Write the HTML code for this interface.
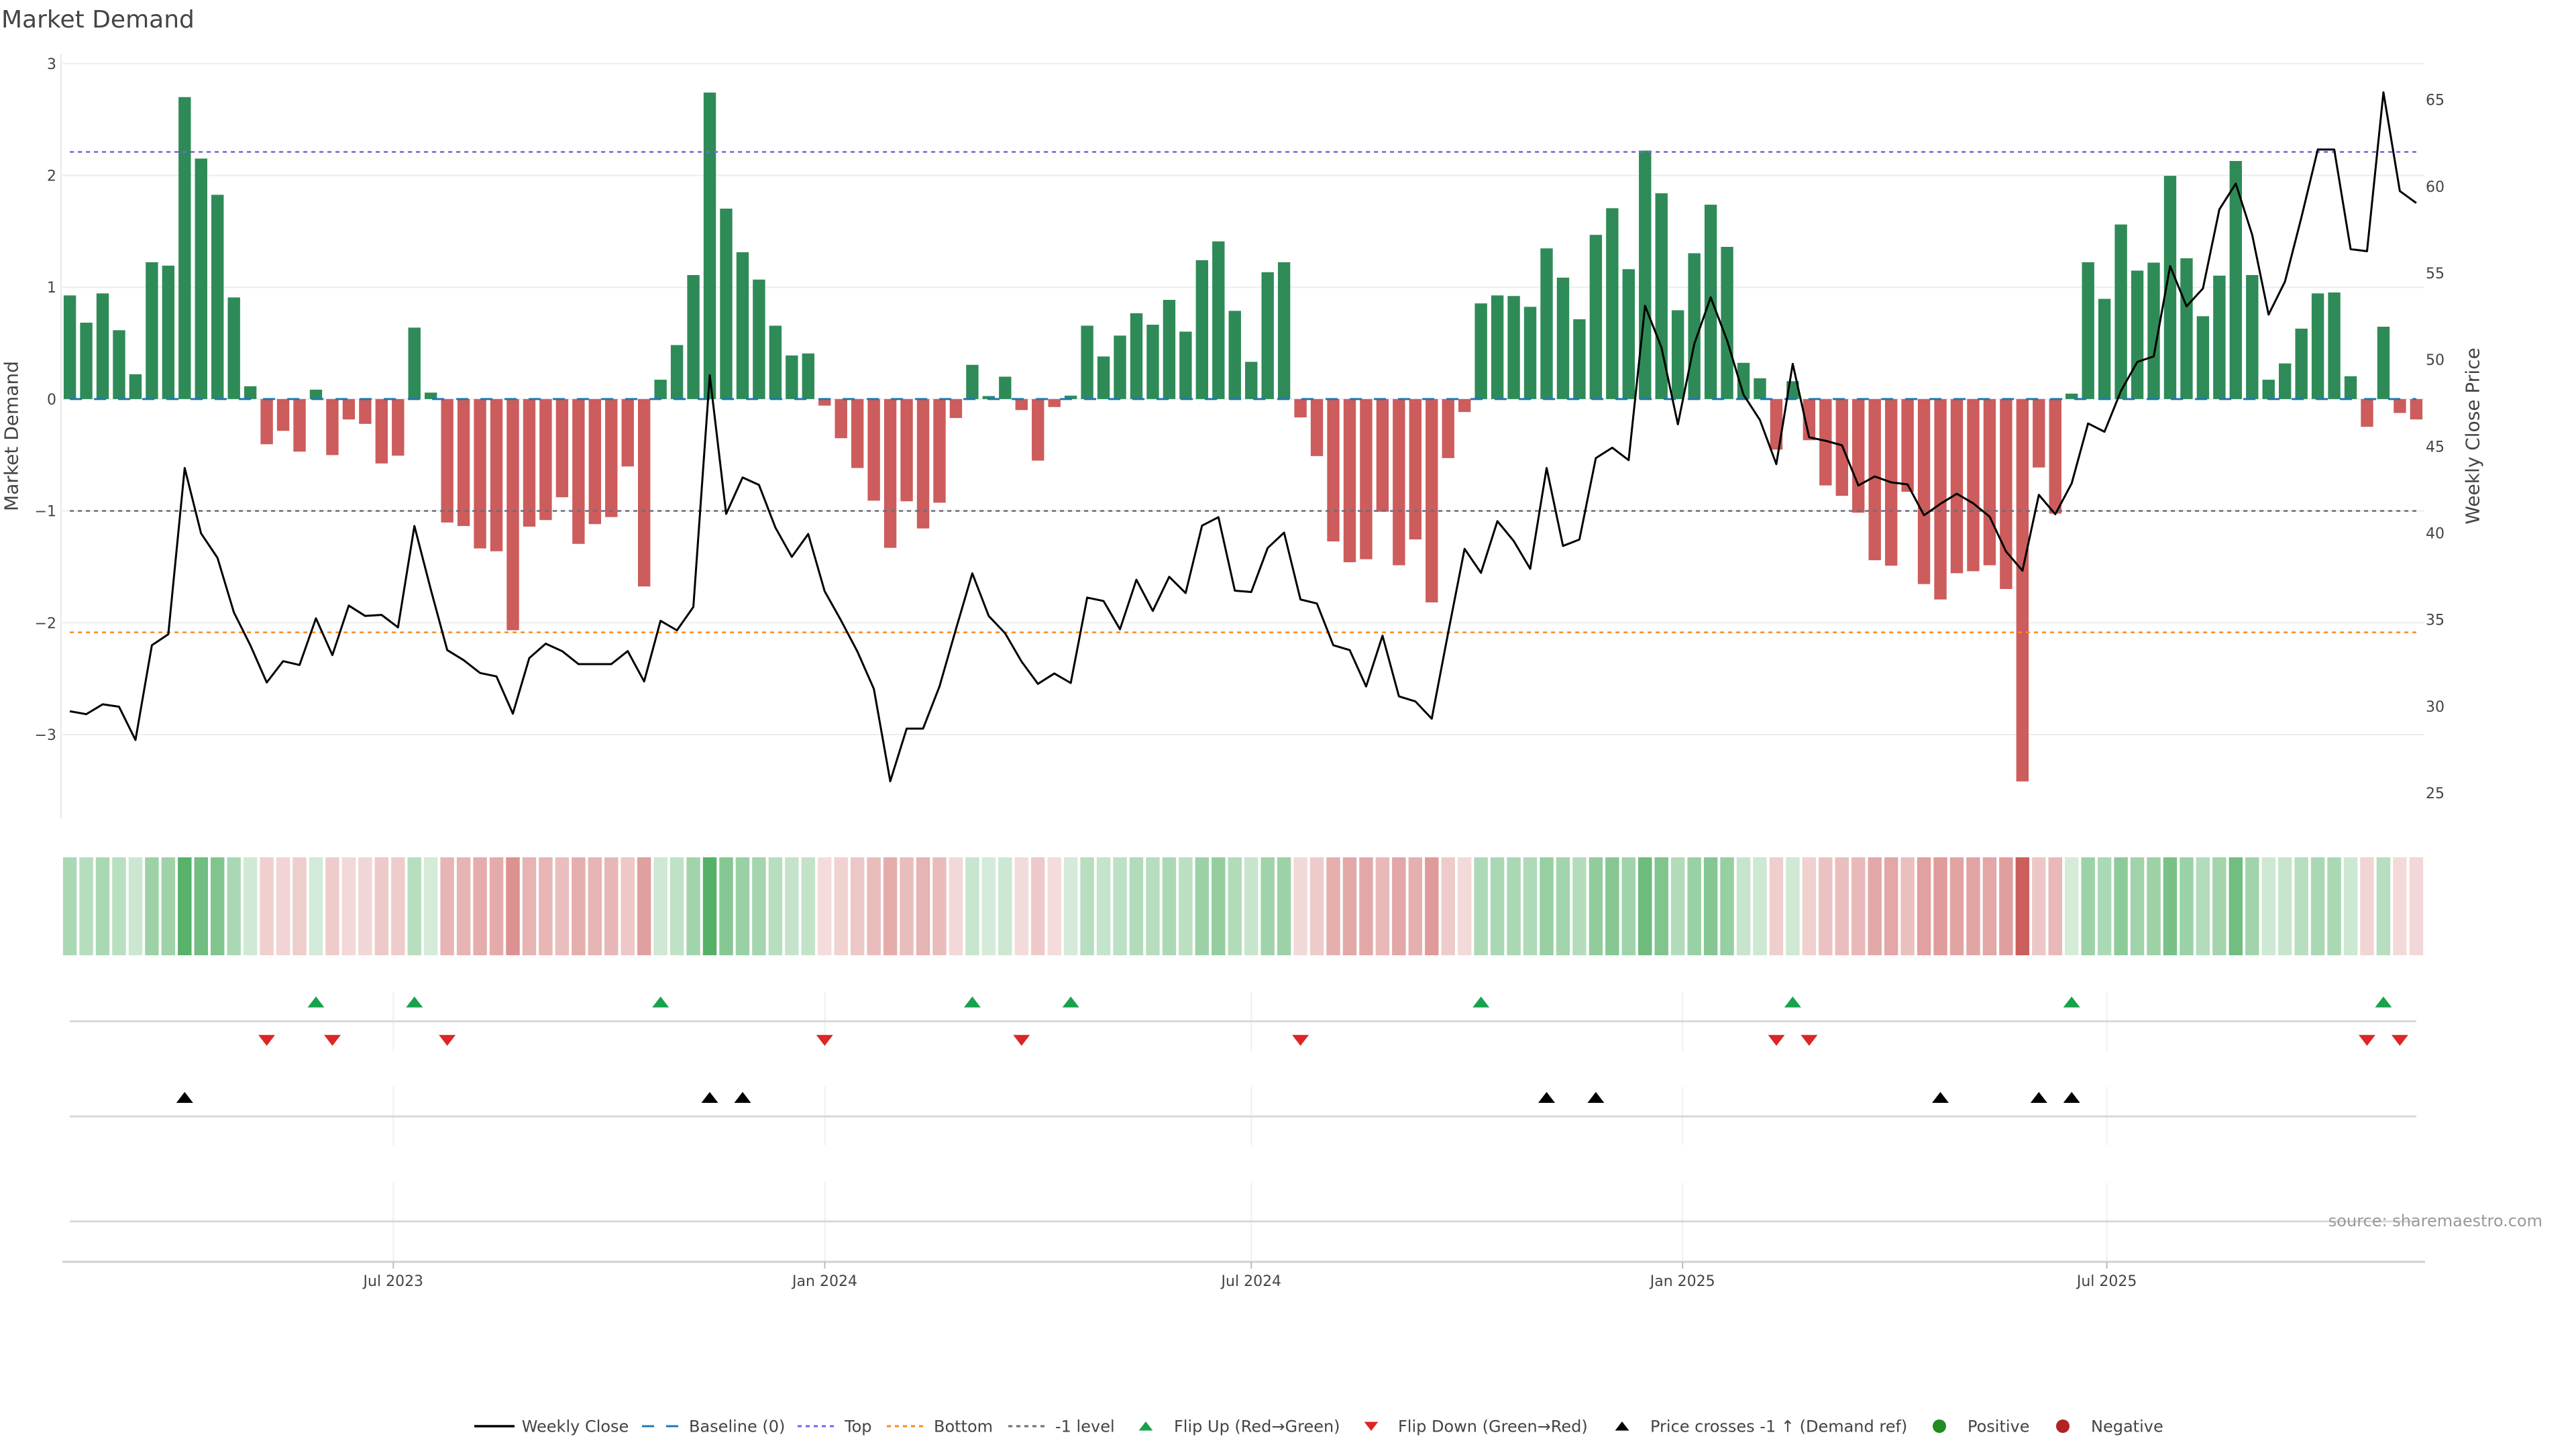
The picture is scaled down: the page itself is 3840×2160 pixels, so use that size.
<!DOCTYPE html>
<html><head><meta charset="utf-8"><style>
html,body{margin:0;padding:0;background:#fff;width:3840px;height:2160px;overflow:hidden}
svg{display:block;font-family:"DejaVu Sans","Liberation Sans",sans-serif}
.g{fill:#32a048}.r{fill:#c95c5a}
</style></head><body>
<svg width="3840" height="2160" viewBox="0 0 3840 2160" xmlns="http://www.w3.org/2000/svg">
<rect width="3840" height="2160" fill="#fff"/>
<text x="2" y="41" font-size="36" fill="#444">Market Demand</text>

<!-- main gridlines -->
<g stroke="#ebedf0" stroke-width="2">
<line x1="93" x2="3614" y1="94.8" y2="94.8"/>
<line x1="93" x2="3614" y1="261.5" y2="261.5"/>
<line x1="93" x2="3614" y1="428.2" y2="428.2"/>
<line x1="93" x2="3614" y1="594.9" y2="594.9"/>
<line x1="93" x2="3614" y1="761.6" y2="761.6"/>
<line x1="93" x2="3614" y1="928.3" y2="928.3"/>
<line x1="93" x2="3614" y1="1095" y2="1095"/>
</g>
<line x1="91" x2="91" y1="80" y2="1220" stroke="#e6e8ec" stroke-width="2"/>

<!-- left ticks -->
<g font-size="22" fill="#444" text-anchor="end">
<text x="84" y="102.8">3</text>
<text x="84" y="269.5">2</text>
<text x="84" y="436.2">1</text>
<text x="84" y="602.9">0</text>
<text x="84" y="769.6">−1</text>
<text x="84" y="936.3">−2</text>
<text x="84" y="1103">−3</text>
</g>
<!-- right ticks -->
<g font-size="22" fill="#444">
<text x="3616" y="156.7">65</text>
<text x="3616" y="285.9">60</text>
<text x="3616" y="415">55</text>
<text x="3616" y="544.2">50</text>
<text x="3616" y="673.3">45</text>
<text x="3616" y="802.5">40</text>
<text x="3616" y="931.6">35</text>
<text x="3616" y="1060.8">30</text>
<text x="3616" y="1189.9">25</text>
</g>
<text transform="translate(17 650) rotate(-90)" text-anchor="middle" dominant-baseline="central" font-size="28" fill="#444">Market Demand</text>
<text transform="translate(3686 650) rotate(-90)" text-anchor="middle" dominant-baseline="central" font-size="28" fill="#444">Weekly Close Price</text>

<!-- bars -->
<g transform="translate(104.1 594.9) scale(24.46 -166.7)">
<path fill="#2e8b57" d="M-.376 0h.752v.927h-.752zM.624 0h.752v.683h-.752zM1.624 0h.752v.945h-.752zM2.624 0h.752v.616h-.752zM3.624 0h.752v.222h-.752zM4.624 0h.752v1.224h-.752zM5.624 0h.752v1.193h-.752zM6.624 0h.752v2.7h-.752zM7.624 0h.752v2.151h-.752zM8.624 0h.752v1.827h-.752zM9.624 0h.752v.909h-.752zM10.624 0h.752v.115h-.752zM14.624 0h.752v.084h-.752zM20.624 0h.752v.639h-.752zM21.624 0h.752v.058h-.752zM35.624 0h.752v.173h-.752zM36.624 0h.752v.483h-.752zM37.624 0h.752v1.109h-.752zM38.624 0h.752v2.741h-.752zM39.624 0h.752v1.703h-.752zM40.624 0h.752v1.313h-.752zM41.624 0h.752v1.069h-.752zM42.624 0h.752v.656h-.752zM43.624 0h.752v.39h-.752zM44.624 0h.752v.408h-.752zM54.624 0h.752v.306h-.752zM55.624 0h.752v.027h-.752zM56.624 0h.752v.2h-.752zM60.624 0h.752v.031h-.752zM61.624 0h.752v.656h-.752zM62.624 0h.752v.381h-.752zM63.624 0h.752v.568h-.752zM64.624 0h.752v.767h-.752zM65.624 0h.752v.665h-.752zM66.624 0h.752v.887h-.752zM67.624 0h.752v.603h-.752zM68.624 0h.752v1.242h-.752zM69.624 0h.752v1.41h-.752zM70.624 0h.752v.789h-.752zM71.624 0h.752v.333h-.752zM72.624 0h.752v1.135h-.752zM73.624 0h.752v1.224h-.752zM85.624 0h.752v.856h-.752zM86.624 0h.752v.927h-.752zM87.624 0h.752v.922h-.752zM88.624 0h.752v.825h-.752zM89.624 0h.752v1.348h-.752zM90.624 0h.752v1.086h-.752zM91.624 0h.752v.714h-.752zM92.624 0h.752v1.468h-.752zM93.624 0h.752v1.707h-.752zM94.624 0h.752v1.162h-.752zM95.624 0h.752v2.222h-.752zM96.624 0h.752v1.84h-.752zM97.624 0h.752v.794h-.752zM98.624 0h.752v1.304h-.752zM99.624 0h.752v1.738h-.752zM100.624 0h.752v1.361h-.752zM101.624 0h.752v.324h-.752zM102.624 0h.752v.186h-.752zM104.624 0h.752v.16h-.752zM121.624 0h.752v.049h-.752zM122.624 0h.752v1.224h-.752zM123.624 0h.752v.896h-.752zM124.624 0h.752v1.561h-.752zM125.624 0h.752v1.149h-.752zM126.624 0h.752v1.22h-.752zM127.624 0h.752v1.996h-.752zM128.624 0h.752v1.259h-.752zM129.624 0h.752v.741h-.752zM130.624 0h.752v1.104h-.752zM131.624 0h.752v2.129h-.752zM132.624 0h.752v1.109h-.752zM133.624 0h.752v.173h-.752zM134.624 0h.752v.319h-.752zM135.624 0h.752v.63h-.752zM136.624 0h.752v.945h-.752zM137.624 0h.752v.953h-.752zM138.624 0h.752v.204h-.752zM140.624 0h.752v.647h-.752z"/>
<path fill="#cd5c5c" d="M11.624 0h.752v-.404h-.752zM12.624 0h.752v-.284h-.752zM13.624 0h.752v-.47h-.752zM15.624 0h.752v-.501h-.752zM16.624 0h.752v-.182h-.752zM17.624 0h.752v-.222h-.752zM18.624 0h.752v-.576h-.752zM19.624 0h.752v-.506h-.752zM22.624 0h.752v-1.104h-.752zM23.624 0h.752v-1.135h-.752zM24.624 0h.752v-1.335h-.752zM25.624 0h.752v-1.361h-.752zM26.624 0h.752v-2.067h-.752zM27.624 0h.752v-1.14h-.752zM28.624 0h.752v-1.082h-.752zM29.624 0h.752v-.878h-.752zM30.624 0h.752v-1.295h-.752zM31.624 0h.752v-1.118h-.752zM32.624 0h.752v-1.055h-.752zM33.624 0h.752v-.603h-.752zM34.624 0h.752v-1.676h-.752zM45.624 0h.752v-.058h-.752zM46.624 0h.752v-.35h-.752zM47.624 0h.752v-.616h-.752zM48.624 0h.752v-.909h-.752zM49.624 0h.752v-1.33h-.752zM50.624 0h.752v-.914h-.752zM51.624 0h.752v-1.157h-.752zM52.624 0h.752v-.927h-.752zM53.624 0h.752v-.169h-.752zM57.624 0h.752v-.098h-.752zM58.624 0h.752v-.55h-.752zM59.624 0h.752v-.071h-.752zM74.624 0h.752v-.164h-.752zM75.624 0h.752v-.51h-.752zM76.624 0h.752v-1.273h-.752zM77.624 0h.752v-1.459h-.752zM78.624 0h.752v-1.432h-.752zM79.624 0h.752v-1.007h-.752zM80.624 0h.752v-1.486h-.752zM81.624 0h.752v-1.255h-.752zM82.624 0h.752v-1.818h-.752zM83.624 0h.752v-.528h-.752zM84.624 0h.752v-.115h-.752zM103.624 0h.752v-.452h-.752zM105.624 0h.752v-.368h-.752zM106.624 0h.752v-.772h-.752zM107.624 0h.752v-.865h-.752zM108.624 0h.752v-1.016h-.752zM109.624 0h.752v-1.441h-.752zM110.624 0h.752v-1.49h-.752zM111.624 0h.752v-.829h-.752zM112.624 0h.752v-1.654h-.752zM113.624 0h.752v-1.792h-.752zM114.624 0h.752v-1.557h-.752zM115.624 0h.752v-1.539h-.752zM116.624 0h.752v-1.486h-.752zM117.624 0h.752v-1.698h-.752zM118.624 0h.752v-3.419h-.752zM119.624 0h.752v-.612h-.752zM120.624 0h.752v-1.024h-.752zM139.624 0h.752v-.248h-.752zM141.624 0h.752v-.124h-.752zM142.624 0h.752v-.182h-.752z"/>
</g>

<!-- reference lines -->
<line x1="104.1" x2="3601.9" y1="594.9" y2="594.9" stroke="#1f77b4" stroke-width="3" stroke-dasharray="18 18"/>
<line x1="104.1" x2="3601.9" y1="226.5" y2="226.5" stroke="#7564dc" stroke-width="2.5" stroke-dasharray="6 6"/>
<line x1="104.1" x2="3601.9" y1="942.6" y2="942.6" stroke="#f58a1f" stroke-width="2.5" stroke-dasharray="6 6"/>
<line x1="104.1" x2="3601.9" y1="761.6" y2="761.6" stroke="#6c6c78" stroke-width="2.5" stroke-dasharray="6 6"/>

<!-- price -->
<g transform="translate(104.1 148.7) scale(24.46 25.83)">
<polyline fill="none" stroke="#000" stroke-width="3" vector-effect="non-scaling-stroke" stroke-linejoin="round" points="0,35.29 1,35.46 2,34.89 3,35.03 4,36.95 5,31.48 6,30.85 7,21.25 8,25.03 9,26.44 10,29.59 11,31.48 12,33.63 13,32.4 14,32.62 15,29.93 16,32.05 17,29.19 18,29.79 19,29.73 20,30.45 21,24.6 22,28.27 23,31.76 24,32.34 25,33.08 26,33.28 27,35.43 28,32.22 29,31.39 30,31.82 31,32.57 32,32.57 33,32.57 34,31.82 35,33.57 36,30.07 37,30.62 38,29.27 39,15.9 40,23.9 41,21.8 42,22.23 43,24.69 44,26.38 45,25.06 46,28.36 47,30.05 48,31.85 49,34 50,39.33 51,36.29 52,36.29 53,33.86 54,30.56 55,27.33 56,29.79 57,30.79 58,32.42 59,33.71 60,33.11 61,33.66 62,28.73 63,28.93 64,30.56 65,27.7 66,29.5 67,27.53 68,28.47 69,24.58 70,24.09 71,28.33 72,28.41 73,25.87 74,24.98 75,28.84 76,29.07 77,31.48 78,31.76 79,33.86 80,30.93 81,34.43 82,34.72 83,35.72 84,30.76 85,25.92 86,27.3 87,24.32 88,25.47 89,27.07 90,21.25 91,25.75 92,25.38 93,20.68 94,20.08 95,20.8 96,11.89 97,14.3 98,18.73 99,14.09 100,11.4 101,13.89 102,17.02 103,18.48 104,21.03 105,15.24 106,19.48 107,19.68 108,19.94 109,22.26 110,21.74 111,22.08 112,22.2 113,23.98 114,23.32 115,22.74 116,23.29 117,24.06 118,26.07 119,27.18 120,22.8 121,23.92 122,22.14 123,18.68 124,19.16 125,16.81 126,15.13 127,14.81 128,9.6 129,11.92 130,10.89 131,6.33 132,4.84 133,7.79 134,12.4 135,10.49 136,6.79 137,2.87 138,2.87 139,8.62 140,8.74 141,-.43 142,5.27 143,5.96"/>
</g>

<!-- heatmap strip -->
<g transform="translate(104.1 1278) scale(24.46 1)">
<rect x="-.418" width=".836" height="146" class="g" fill-opacity=".41"/>
<rect x=".582" width=".836" height="146" class="g" fill-opacity=".356"/>
<rect x="1.582" width=".836" height="146" class="g" fill-opacity=".415"/>
<rect x="2.582" width=".836" height="146" class="g" fill-opacity=".34"/>
<rect x="3.582" width=".836" height="146" class="g" fill-opacity=".25"/>
<rect x="4.582" width=".836" height="146" class="g" fill-opacity=".479"/>
<rect x="5.582" width=".836" height="146" class="g" fill-opacity=".472"/>
<rect x="6.582" width=".836" height="146" class="g" fill-opacity=".816"/>
<rect x="7.582" width=".836" height="146" class="g" fill-opacity=".69"/>
<rect x="8.582" width=".836" height="146" class="g" fill-opacity=".617"/>
<rect x="9.582" width=".836" height="146" class="g" fill-opacity=".407"/>
<rect x="10.582" width=".836" height="146" class="g" fill-opacity=".226"/>
<rect x="11.582" width=".836" height="146" class="r" fill-opacity=".292"/>
<rect x="12.582" width=".836" height="146" class="r" fill-opacity=".265"/>
<rect x="13.582" width=".836" height="146" class="r" fill-opacity=".307"/>
<rect x="14.582" width=".836" height="146" class="g" fill-opacity=".219"/>
<rect x="15.582" width=".836" height="146" class="r" fill-opacity=".314"/>
<rect x="16.582" width=".836" height="146" class="r" fill-opacity=".241"/>
<rect x="17.582" width=".836" height="146" class="r" fill-opacity=".25"/>
<rect x="18.582" width=".836" height="146" class="r" fill-opacity=".331"/>
<rect x="19.582" width=".836" height="146" class="r" fill-opacity=".315"/>
<rect x="20.582" width=".836" height="146" class="g" fill-opacity=".346"/>
<rect x="21.582" width=".836" height="146" class="g" fill-opacity=".213"/>
<rect x="22.582" width=".836" height="146" class="r" fill-opacity=".452"/>
<rect x="23.582" width=".836" height="146" class="r" fill-opacity=".459"/>
<rect x="24.582" width=".836" height="146" class="r" fill-opacity=".504"/>
<rect x="25.582" width=".836" height="146" class="r" fill-opacity=".51"/>
<rect x="26.582" width=".836" height="146" class="r" fill-opacity=".671"/>
<rect x="27.582" width=".836" height="146" class="r" fill-opacity=".46"/>
<rect x="28.582" width=".836" height="146" class="r" fill-opacity=".447"/>
<rect x="29.582" width=".836" height="146" class="r" fill-opacity=".4"/>
<rect x="30.582" width=".836" height="146" class="r" fill-opacity=".495"/>
<rect x="31.582" width=".836" height="146" class="r" fill-opacity=".455"/>
<rect x="32.582" width=".836" height="146" class="r" fill-opacity=".441"/>
<rect x="33.582" width=".836" height="146" class="r" fill-opacity=".337"/>
<rect x="34.582" width=".836" height="146" class="r" fill-opacity=".582"/>
<rect x="35.582" width=".836" height="146" class="g" fill-opacity=".239"/>
<rect x="36.582" width=".836" height="146" class="g" fill-opacity=".31"/>
<rect x="37.582" width=".836" height="146" class="g" fill-opacity=".453"/>
<rect x="38.582" width=".836" height="146" class="g" fill-opacity=".825"/>
<rect x="39.582" width=".836" height="146" class="g" fill-opacity=".588"/>
<rect x="40.582" width=".836" height="146" class="g" fill-opacity=".499"/>
<rect x="41.582" width=".836" height="146" class="g" fill-opacity=".444"/>
<rect x="42.582" width=".836" height="146" class="g" fill-opacity=".35"/>
<rect x="43.582" width=".836" height="146" class="g" fill-opacity=".289"/>
<rect x="44.582" width=".836" height="146" class="g" fill-opacity=".293"/>
<rect x="45.582" width=".836" height="146" class="r" fill-opacity=".213"/>
<rect x="46.582" width=".836" height="146" class="r" fill-opacity=".28"/>
<rect x="47.582" width=".836" height="146" class="r" fill-opacity=".34"/>
<rect x="48.582" width=".836" height="146" class="r" fill-opacity=".407"/>
<rect x="49.582" width=".836" height="146" class="r" fill-opacity=".503"/>
<rect x="50.582" width=".836" height="146" class="r" fill-opacity=".408"/>
<rect x="51.582" width=".836" height="146" class="r" fill-opacity=".464"/>
<rect x="52.582" width=".836" height="146" class="r" fill-opacity=".411"/>
<rect x="53.582" width=".836" height="146" class="r" fill-opacity=".239"/>
<rect x="54.582" width=".836" height="146" class="g" fill-opacity=".27"/>
<rect x="55.582" width=".836" height="146" class="g" fill-opacity=".206"/>
<rect x="56.582" width=".836" height="146" class="g" fill-opacity=".246"/>
<rect x="57.582" width=".836" height="146" class="r" fill-opacity=".222"/>
<rect x="58.582" width=".836" height="146" class="r" fill-opacity=".325"/>
<rect x="59.582" width=".836" height="146" class="r" fill-opacity=".216"/>
<rect x="60.582" width=".836" height="146" class="g" fill-opacity=".207"/>
<rect x="61.582" width=".836" height="146" class="g" fill-opacity=".35"/>
<rect x="62.582" width=".836" height="146" class="g" fill-opacity=".287"/>
<rect x="63.582" width=".836" height="146" class="g" fill-opacity=".33"/>
<rect x="64.582" width=".836" height="146" class="g" fill-opacity=".375"/>
<rect x="65.582" width=".836" height="146" class="g" fill-opacity=".352"/>
<rect x="66.582" width=".836" height="146" class="g" fill-opacity=".402"/>
<rect x="67.582" width=".836" height="146" class="g" fill-opacity=".337"/>
<rect x="68.582" width=".836" height="146" class="g" fill-opacity=".483"/>
<rect x="69.582" width=".836" height="146" class="g" fill-opacity=".521"/>
<rect x="70.582" width=".836" height="146" class="g" fill-opacity=".38"/>
<rect x="71.582" width=".836" height="146" class="g" fill-opacity=".276"/>
<rect x="72.582" width=".836" height="146" class="g" fill-opacity=".459"/>
<rect x="73.582" width=".836" height="146" class="g" fill-opacity=".479"/>
<rect x="74.582" width=".836" height="146" class="r" fill-opacity=".237"/>
<rect x="75.582" width=".836" height="146" class="r" fill-opacity=".316"/>
<rect x="76.582" width=".836" height="146" class="r" fill-opacity=".49"/>
<rect x="77.582" width=".836" height="146" class="r" fill-opacity=".533"/>
<rect x="78.582" width=".836" height="146" class="r" fill-opacity=".526"/>
<rect x="79.582" width=".836" height="146" class="r" fill-opacity=".43"/>
<rect x="80.582" width=".836" height="146" class="r" fill-opacity=".539"/>
<rect x="81.582" width=".836" height="146" class="r" fill-opacity=".486"/>
<rect x="82.582" width=".836" height="146" class="r" fill-opacity=".615"/>
<rect x="83.582" width=".836" height="146" class="r" fill-opacity=".32"/>
<rect x="84.582" width=".836" height="146" class="r" fill-opacity=".226"/>
<rect x="85.582" width=".836" height="146" class="g" fill-opacity=".395"/>
<rect x="86.582" width=".836" height="146" class="g" fill-opacity=".411"/>
<rect x="87.582" width=".836" height="146" class="g" fill-opacity=".41"/>
<rect x="88.582" width=".836" height="146" class="g" fill-opacity=".388"/>
<rect x="89.582" width=".836" height="146" class="g" fill-opacity=".507"/>
<rect x="90.582" width=".836" height="146" class="g" fill-opacity=".448"/>
<rect x="91.582" width=".836" height="146" class="g" fill-opacity=".363"/>
<rect x="92.582" width=".836" height="146" class="g" fill-opacity=".535"/>
<rect x="93.582" width=".836" height="146" class="g" fill-opacity=".589"/>
<rect x="94.582" width=".836" height="146" class="g" fill-opacity=".465"/>
<rect x="95.582" width=".836" height="146" class="g" fill-opacity=".707"/>
<rect x="96.582" width=".836" height="146" class="g" fill-opacity=".62"/>
<rect x="97.582" width=".836" height="146" class="g" fill-opacity=".381"/>
<rect x="98.582" width=".836" height="146" class="g" fill-opacity=".497"/>
<rect x="99.582" width=".836" height="146" class="g" fill-opacity=".596"/>
<rect x="100.582" width=".836" height="146" class="g" fill-opacity=".51"/>
<rect x="101.582" width=".836" height="146" class="g" fill-opacity=".274"/>
<rect x="102.582" width=".836" height="146" class="g" fill-opacity=".242"/>
<rect x="103.582" width=".836" height="146" class="r" fill-opacity=".303"/>
<rect x="104.582" width=".836" height="146" class="g" fill-opacity=".236"/>
<rect x="105.582" width=".836" height="146" class="r" fill-opacity=".284"/>
<rect x="106.582" width=".836" height="146" class="r" fill-opacity=".376"/>
<rect x="107.582" width=".836" height="146" class="r" fill-opacity=".397"/>
<rect x="108.582" width=".836" height="146" class="r" fill-opacity=".432"/>
<rect x="109.582" width=".836" height="146" class="r" fill-opacity=".529"/>
<rect x="110.582" width=".836" height="146" class="r" fill-opacity=".54"/>
<rect x="111.582" width=".836" height="146" class="r" fill-opacity=".389"/>
<rect x="112.582" width=".836" height="146" class="r" fill-opacity=".577"/>
<rect x="113.582" width=".836" height="146" class="r" fill-opacity=".609"/>
<rect x="114.582" width=".836" height="146" class="r" fill-opacity=".555"/>
<rect x="115.582" width=".836" height="146" class="r" fill-opacity=".551"/>
<rect x="116.582" width=".836" height="146" class="r" fill-opacity=".539"/>
<rect x="117.582" width=".836" height="146" class="r" fill-opacity=".587"/>
<rect x="118.582" width=".836" height="146" class="r" fill-opacity=".98"/>
<rect x="119.582" width=".836" height="146" class="r" fill-opacity=".34"/>
<rect x="120.582" width=".836" height="146" class="r" fill-opacity=".433"/>
<rect x="121.582" width=".836" height="146" class="g" fill-opacity=".211"/>
<rect x="122.582" width=".836" height="146" class="g" fill-opacity=".479"/>
<rect x="123.582" width=".836" height="146" class="g" fill-opacity=".404"/>
<rect x="124.582" width=".836" height="146" class="g" fill-opacity=".556"/>
<rect x="125.582" width=".836" height="146" class="g" fill-opacity=".462"/>
<rect x="126.582" width=".836" height="146" class="g" fill-opacity=".478"/>
<rect x="127.582" width=".836" height="146" class="g" fill-opacity=".655"/>
<rect x="128.582" width=".836" height="146" class="g" fill-opacity=".487"/>
<rect x="129.582" width=".836" height="146" class="g" fill-opacity=".369"/>
<rect x="130.582" width=".836" height="146" class="g" fill-opacity=".452"/>
<rect x="131.582" width=".836" height="146" class="g" fill-opacity=".685"/>
<rect x="132.582" width=".836" height="146" class="g" fill-opacity=".453"/>
<rect x="133.582" width=".836" height="146" class="g" fill-opacity=".239"/>
<rect x="134.582" width=".836" height="146" class="g" fill-opacity=".273"/>
<rect x="135.582" width=".836" height="146" class="g" fill-opacity=".344"/>
<rect x="136.582" width=".836" height="146" class="g" fill-opacity=".415"/>
<rect x="137.582" width=".836" height="146" class="g" fill-opacity=".417"/>
<rect x="138.582" width=".836" height="146" class="g" fill-opacity=".247"/>
<rect x="139.582" width=".836" height="146" class="r" fill-opacity=".257"/>
<rect x="140.582" width=".836" height="146" class="g" fill-opacity=".348"/>
<rect x="141.582" width=".836" height="146" class="r" fill-opacity=".228"/>
<rect x="142.582" width=".836" height="146" class="r" fill-opacity=".241"/>
</g>

<!-- lower rows: vertical gridlines -->
<g stroke="#eef0f3" stroke-width="2">
<line x1="586.3" x2="586.3" y1="1479" y2="1567"/><line x1="1229.5" x2="1229.5" y1="1479" y2="1567"/><line x1="1865.3" x2="1865.3" y1="1479" y2="1567"/><line x1="2508.2" x2="2508.2" y1="1479" y2="1567"/><line x1="3140.6" x2="3140.6" y1="1479" y2="1567"/>
<line x1="586.3" x2="586.3" y1="1620" y2="1707"/><line x1="1229.5" x2="1229.5" y1="1620" y2="1707"/><line x1="1865.3" x2="1865.3" y1="1620" y2="1707"/><line x1="2508.2" x2="2508.2" y1="1620" y2="1707"/><line x1="3140.6" x2="3140.6" y1="1620" y2="1707"/>
<line x1="586.3" x2="586.3" y1="1763" y2="1881"/><line x1="1229.5" x2="1229.5" y1="1763" y2="1881"/><line x1="1865.3" x2="1865.3" y1="1763" y2="1881"/><line x1="2508.2" x2="2508.2" y1="1763" y2="1881"/><line x1="3140.6" x2="3140.6" y1="1763" y2="1881"/>
</g>
<g stroke="#d8d8d8" stroke-width="3">
<line x1="104.1" x2="3601.9" y1="1522.4" y2="1522.4"/>
<line x1="104.1" x2="3601.9" y1="1664.2" y2="1664.2"/>
<line x1="104.1" x2="3601.9" y1="1820.8" y2="1820.8"/>
</g>
<line x1="93" x2="3615" y1="1881" y2="1881" stroke="#d0d0d0" stroke-width="3"/>
<g stroke="#bbb" stroke-width="2">
<line x1="586.3" x2="586.3" y1="1881" y2="1891"/><line x1="1229.5" x2="1229.5" y1="1881" y2="1891"/><line x1="1865.3" x2="1865.3" y1="1881" y2="1891"/><line x1="2508.2" x2="2508.2" y1="1881" y2="1891"/><line x1="3140.6" x2="3140.6" y1="1881" y2="1891"/>
</g>
<g font-size="22" fill="#444" text-anchor="middle">
<text x="586.3" y="1917">Jul 2023</text>
<text x="1229.5" y="1917">Jan 2024</text>
<text x="1865.3" y="1917">Jul 2024</text>
<text x="2508.2" y="1917">Jan 2025</text>
<text x="3140.6" y="1917">Jul 2025</text>
</g>

<!-- flip up markers -->
<g fill="#17a24b">
<path d="M-12.5 5.4H12.5L0-10.8Z" transform="translate(471 1496.3)"/>
<path d="M-12.5 5.4H12.5L0-10.8Z" transform="translate(617.8 1496.3)"/>
<path d="M-12.5 5.4H12.5L0-10.8Z" transform="translate(984.7 1496.3)"/>
<path d="M-12.5 5.4H12.5L0-10.8Z" transform="translate(1449.4 1496.3)"/>
<path d="M-12.5 5.4H12.5L0-10.8Z" transform="translate(1596.2 1496.3)"/>
<path d="M-12.5 5.4H12.5L0-10.8Z" transform="translate(2207.7 1496.3)"/>
<path d="M-12.5 5.4H12.5L0-10.8Z" transform="translate(2672.4 1496.3)"/>
<path d="M-12.5 5.4H12.5L0-10.8Z" transform="translate(3088.2 1496.3)"/>
<path d="M-12.5 5.4H12.5L0-10.8Z" transform="translate(3552.9 1496.3)"/>
</g>
<!-- flip down markers -->
<g fill="#dc2626">
<path d="M-12.5-5.4H12.5L0 10.8Z" transform="translate(397.6 1548.2)"/>
<path d="M-12.5-5.4H12.5L0 10.8Z" transform="translate(495.5 1548.2)"/>
<path d="M-12.5-5.4H12.5L0 10.8Z" transform="translate(666.7 1548.2)"/>
<path d="M-12.5-5.4H12.5L0 10.8Z" transform="translate(1229.3 1548.2)"/>
<path d="M-12.5-5.4H12.5L0 10.8Z" transform="translate(1522.8 1548.2)"/>
<path d="M-12.5-5.4H12.5L0 10.8Z" transform="translate(1938.6 1548.2)"/>
<path d="M-12.5-5.4H12.5L0 10.8Z" transform="translate(2648 1548.2)"/>
<path d="M-12.5-5.4H12.5L0 10.8Z" transform="translate(2696.9 1548.2)"/>
<path d="M-12.5-5.4H12.5L0 10.8Z" transform="translate(3528.5 1548.2)"/>
<path d="M-12.5-5.4H12.5L0 10.8Z" transform="translate(3577.4 1548.2)"/>
</g>
<!-- price crosses markers -->
<g fill="#000">
<path d="M-12.5 5.4H12.5L0-10.8Z" transform="translate(275.3 1638.6)"/>
<path d="M-12.5 5.4H12.5L0-10.8Z" transform="translate(1058 1638.6)"/>
<path d="M-12.5 5.4H12.5L0-10.8Z" transform="translate(1107 1638.6)"/>
<path d="M-12.5 5.4H12.5L0-10.8Z" transform="translate(2305.5 1638.6)"/>
<path d="M-12.5 5.4H12.5L0-10.8Z" transform="translate(2378.9 1638.6)"/>
<path d="M-12.5 5.4H12.5L0-10.8Z" transform="translate(2892.5 1638.6)"/>
<path d="M-12.5 5.4H12.5L0-10.8Z" transform="translate(3039.3 1638.6)"/>
<path d="M-12.5 5.4H12.5L0-10.8Z" transform="translate(3088.2 1638.6)"/>
</g>

<text x="3790" y="1828" text-anchor="end" font-size="24" fill="#999">source: sharemaestro.com</text>

<!-- legend -->
<line x1="707" x2="767" y1="2126" y2="2126" stroke="#000" stroke-width="3.5"/>
<line x1="957" x2="1017" y1="2126" y2="2126" stroke="#1f77b4" stroke-width="3" stroke-dasharray="18 18"/>
<line x1="1189" x2="1249" y1="2126" y2="2126" stroke="#7564dc" stroke-width="3" stroke-dasharray="6 6"/>
<line x1="1322" x2="1382" y1="2126" y2="2126" stroke="#f58a1f" stroke-width="3" stroke-dasharray="6 6"/>
<line x1="1503" x2="1563" y1="2126" y2="2126" stroke="#6c6c78" stroke-width="3" stroke-dasharray="6 6"/>
<path d="M-10.4 4.5H10.4L0-9Z" transform="translate(1708 2128)" fill="#17a24b"/>
<path d="M-10.4-4.5H10.4L0 9Z" transform="translate(2044 2124)" fill="#dc2626"/>
<path d="M-10.4 4.5H10.4L0-9Z" transform="translate(2418 2128)" fill="#000"/>
<circle cx="2891" cy="2126" r="10" fill="#228b22"/>
<circle cx="3075" cy="2126" r="10" fill="#b22222"/>
<g font-size="24" fill="#444">
<text x="777.7" y="2134.5">Weekly Close</text>
<text x="1027" y="2134.5">Baseline (0)</text>
<text x="1259" y="2134.5">Top</text>
<text x="1392" y="2134.5">Bottom</text>
<text x="1573" y="2134.5">-1 level</text>
<text x="1750" y="2134.5">Flip Up (Red→Green)</text>
<text x="2084" y="2134.5">Flip Down (Green→Red)</text>
<text x="2460" y="2134.5">Price crosses -1 ↑ (Demand ref)</text>
<text x="2933" y="2134.5">Positive</text>
<text x="3117" y="2134.5">Negative</text>
</g>
</svg>
</body></html>
